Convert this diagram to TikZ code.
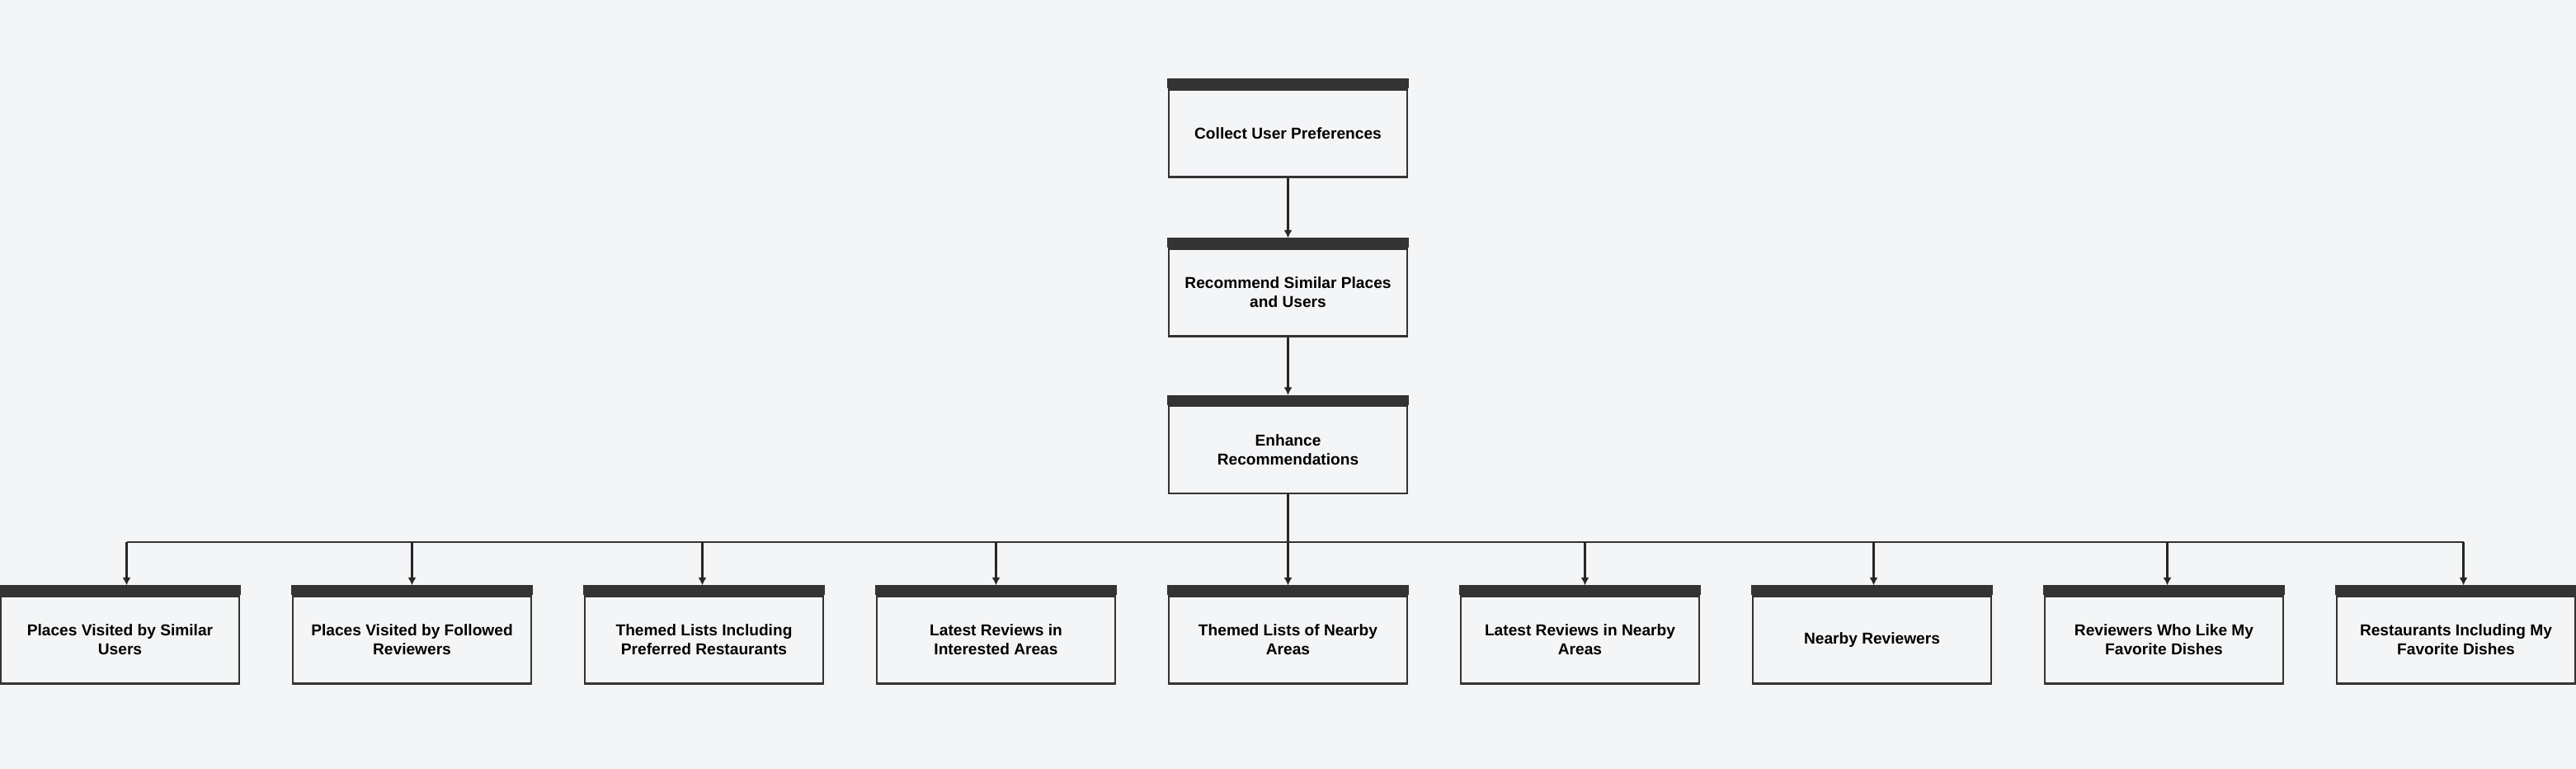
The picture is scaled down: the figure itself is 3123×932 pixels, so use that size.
\documentclass[tikz,border=0pt]{standalone}
\usepackage{fontspec}
\setmainfont{Liberation Sans}
\usetikzlibrary{arrows.meta}
\usetikzlibrary{positioning}

\definecolor{canvas}{RGB}{244,245,247}
\definecolor{edge}{RGB}{51,51,51}

\tikzset{
  stepbox/.style={draw=edge, fill=canvas, line width=1.2pt, minimum width=5.78cm,
    minimum height=2.12cm, inner sep=0pt, align=center,
    font=\fontsize{10.9}{13.2}\selectfont\bfseries},
  link/.style={->, >={Latex[length=0.19cm,width=0.2cm]}, line width=1.2pt, draw=black!85},
  topbar/.style={fill=edge},
}

\begin{document}
\begin{tikzpicture}[x=0.02cm, y=-0.02cm]
\fill[canvas] (0,0) rectangle (3123,932);
\useasboundingbox (0,0) rectangle (3123,932);

% main chain
\node[stepbox] (collect) at (1561.5,161.5) {Collect User Preferences};
\node[stepbox] (recommend) at (1561.5,354.5) {Recommend Similar Places\\and Users};
\node[stepbox] (enhance) at (1561.5,545) {Enhance\\Recommendations};

% outcomes
\foreach \name/\txt/\dx [count=\i from 0] in {
  similar/{Places Visited by Similar\\Users}/8,
  followed/{Places Visited by Followed\\Reviewers}/0,
  preferred/{Themed Lists Including\\Preferred Restaurants}/-2,
  interested/{Latest Reviews in\\Interested Areas}/0,
  nearbylists/{Themed Lists of Nearby\\Areas}/0,
  nearbyreviews/{Latest Reviews in Nearby\\Areas}/6,
  reviewers/{Nearby Reviewers}/2,
  likers/{Reviewers Who Like My\\Favorite Dishes}/4,
  dishes/{Restaurants Including My\\Favorite Dishes}/9}
{
  \node[stepbox] (\name) at (145.5+354*\i,775.5) {\txt};
  \coordinate (\name-tip) at ([xshift=\dx*0.02cm, yshift=0.24cm]\name.north);
}

% header bars
\foreach \n in {collect,recommend,enhance,similar,followed,preferred,interested,
  nearbylists,nearbyreviews,reviewers,likers,dishes}
  \fill[topbar] ([xshift=-0.6pt]\n.north west) rectangle ([xshift=0.6pt, yshift=0.24cm]\n.north east);

\coordinate (recommend-tip) at ([yshift=0.24cm]recommend.north);
\coordinate (enhance-tip) at ([yshift=0.24cm]enhance.north);
\draw[link] (collect.south) -- (recommend-tip);
\draw[link] (recommend.south) -- (enhance-tip);

% fan out
\coordinate (split) at (1561.5,657);
\draw[line width=1.2pt, draw=black!85] (enhance.south) -- (split);
\draw[line width=1.2pt, draw=edge] (split -| similar-tip) -- (split -| dishes-tip);
\foreach \n in {similar,followed,preferred,interested,nearbylists,nearbyreviews,reviewers,likers,dishes}
  \draw[link] (split -| \n-tip) -- (\n-tip);
\end{tikzpicture}
\end{document}
